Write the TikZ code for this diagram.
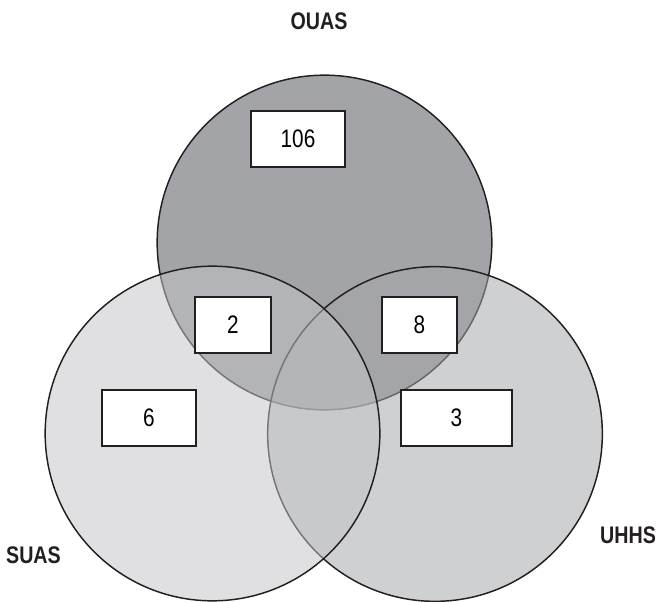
\documentclass[tikz,border=0pt]{standalone}
\usepackage{fontspec}
\setmainfont[FakeStretch=0.82]{Liberation Sans}
\definecolor{ouas}{RGB}{163,164,168}
\definecolor{uhhs}{RGB}{164,166,170}
\definecolor{suas}{RGB}{195,196,200}
\definecolor{lineblk}{RGB}{35,31,32}
\begin{document}
\begin{tikzpicture}[x=0.75pt,y=-0.75pt,
  circ/.style={circle, draw=lineblk, line width=1.1pt, minimum size=251pt, inner sep=0pt},
  numbox/.style={draw=lineblk, fill=white, line width=1.1pt, minimum height=42pt, inner sep=0pt,
    font=\fontsize{19}{20}\selectfont},
  setlabel/.style={font=\bfseries\fontsize{18}{20}\selectfont, text=lineblk, inner sep=0pt}]
\useasboundingbox (0,0) rectangle (659,602);
% circles
\node[circ, fill=ouas] (ouas) at (324.5,242.5) {};
\node[circ, fill=uhhs, fill opacity=0.53] (uhhs) at (435,434) {};
\node[circ, fill=suas, fill opacity=0.52] (suas) at (212.5,433.5) {};
% counts
\node[numbox, minimum width=70.5pt] (n106) at (298,139) {106};
\node[numbox, minimum width=57pt] (n2) at (233,325) {2};
\node[numbox, minimum width=56.25pt] (n8) at (419.5,325) {8};
\node[numbox, minimum width=70.5pt] (n6) at (149,418) {6};
\node[numbox, minimum width=83.25pt] (n3) at (456.5,418) {3};
% set labels
\node[setlabel] (lo) at (319,21) {OUAS};
\node[setlabel] (ls) at (33.5,555.5) {SUAS};
\node[setlabel] (lu) at (628,535) {UHHS};
\end{tikzpicture}
\end{document}
